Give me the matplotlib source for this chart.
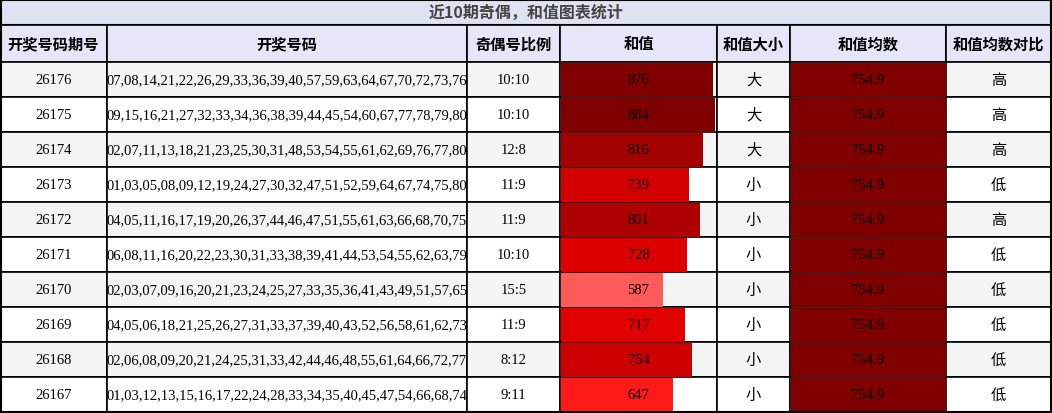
import matplotlib
matplotlib.use("Agg")
import matplotlib.pyplot as plt
from matplotlib.patches import Rectangle

plt.rcParams['font.family'] = ['Noto Sans CJK SC', 'DejaVu Sans']

title = "近10期奇偶，和值图表统计"
headers = ["开奖号码期号", "开奖号码", "奇偶号比例", "和值", "和值大小", "和值均数", "和值均数对比"]
periods = ["26176", "26175", "26174", "26173", "26172", "26171", "26170", "26169", "26168", "26167"]
numbers = [
    "07,08,14,21,22,26,29,33,36,39,40,57,59,63,64,67,70,72,73,76",
    "09,15,16,21,27,32,33,34,36,38,39,44,45,54,60,67,77,78,79,80",
    "02,07,11,13,18,21,23,25,30,31,48,53,54,55,61,62,69,76,77,80",
    "01,03,05,08,09,12,19,24,27,30,32,47,51,52,59,64,67,74,75,80",
    "04,05,11,16,17,19,20,26,37,44,46,47,51,55,61,63,66,68,70,75",
    "06,08,11,16,20,22,23,30,31,33,38,39,41,44,53,54,55,62,63,79",
    "02,03,07,09,16,20,21,23,24,25,27,33,35,36,41,43,49,51,57,65",
    "04,05,06,18,21,25,26,27,31,33,37,39,40,43,52,56,58,61,62,73",
    "02,06,08,09,20,21,24,25,31,33,42,44,46,48,55,61,64,66,72,77",
    "01,03,12,13,15,16,17,22,24,28,33,34,35,40,45,47,54,66,68,74",
]
ratios = ["10:10", "10:10", "12:8", "11:9", "11:9", "10:10", "15:5", "11:9", "8:12", "9:11"]
sums = [876, 884, 816, 739, 801, 728, 587, 717, 754, 647]
sizes = ["大", "大", "大", "小", "小", "小", "小", "小", "小", "小"]
avg = 754.9
compare = ["高", "高", "高", "低", "高", "低", "低", "低", "低", "低"]
bar_colors = ["#800000", "#800000", "#a30000", "#d20000", "#ae0000",
              "#dc0000", "#ff5a5a", "#e00000", "#cc0000", "#ff1a1a"]

W, H = 1052, 414
fig = plt.figure(figsize=(W/100, H/100), dpi=100)
ax = fig.add_axes([0, 0, 1, 1])
ax.set_xlim(0, W)
ax.set_ylim(H, 0)
ax.axis('off')

xs = [0, 107, 467, 560, 717, 790, 946, 1051]
title_h, head_top, head_bot = 26, 26, 63
rh = 35

# title
ax.add_patch(Rectangle((0, 0), W-1, title_h, facecolor="#dde3f2", edgecolor="black", lw=1.5))
ax.text(W/2, title_h/2, title, ha='center', va='center', fontsize=11.5, color="#444444", weight='bold')
# header
for i, h in enumerate(headers):
    ax.add_patch(Rectangle((xs[i], head_top), xs[i+1]-xs[i], head_bot-head_top,
                           facecolor="#e6e6f8", edgecolor="black", lw=1.2))
    ax.text((xs[i]+xs[i+1])/2, (head_top+head_bot)/2, h, ha='center', va='center',
            fontsize=11, weight='bold', color='black')

serif = ['Liberation Serif', 'DejaVu Serif']
scale = 154/884.0
for r in range(len(periods)):
    y0 = head_bot + r*rh
    yc = y0 + rh/2
    bg = "#f4f4f4" if r % 2 == 0 else "white"
    for i in range(7):
        ax.add_patch(Rectangle((xs[i], y0), xs[i+1]-xs[i], rh, facecolor=bg, edgecolor="black", lw=1.2))
    # bars
    ax.barh(yc, sums[r]*scale, left=xs[3]+0.5, height=rh-1, color=bar_colors[r], zorder=3)
    ax.barh(yc, (xs[6]-xs[5])-1, left=xs[5]+0.5, height=rh-1, color="#800000", zorder=3)
    vals = [periods[r], numbers[r], ratios[r], str(sums[r]), None, f"{avg:.1f}", None]
    for i, v in enumerate(vals):
        if v is None:
            continue
        ax.text((xs[i]+xs[i+1])/2, yc, v, ha='center', va='center', fontsize=10.5,
                family=serif, color='black', zorder=4)
    ax.text((xs[4]+xs[5])/2, yc, sizes[r], ha='center', va='center', fontsize=11, color='black')
    ax.text((xs[6]+xs[7])/2, yc, compare[r], ha='center', va='center', fontsize=11, color='black')

ax.add_patch(Rectangle((0.5, 0.5), W-1.5, H-1.5, fill=False, edgecolor='black', lw=1.5, zorder=5))
fig.savefig("out.png", dpi=100)
